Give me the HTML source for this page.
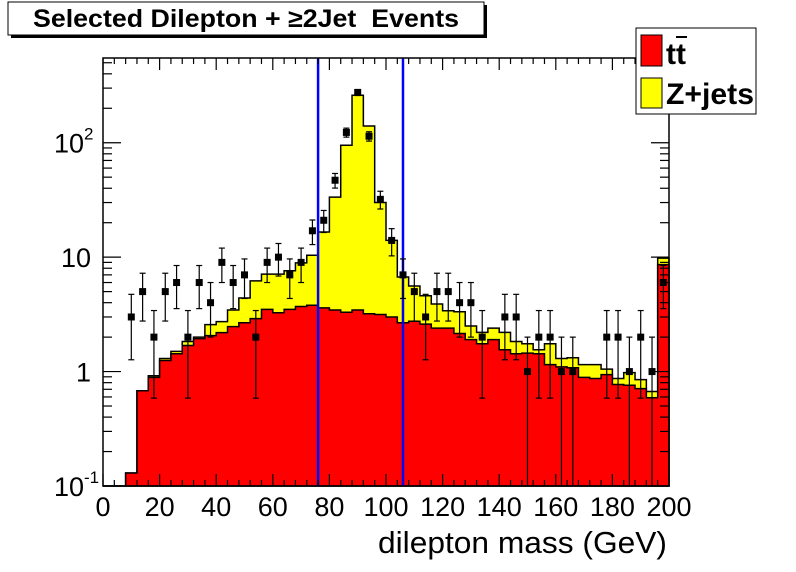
<!DOCTYPE html>
<html><head><meta charset="utf-8"><style>
body{margin:0;background:#fff;}
svg{display:block;font-family:"Liberation Sans",sans-serif;}
</style></head><body>
<svg id="c" width="796" height="572" viewBox="0 0 796 572"></svg>
<script>
const binEdgesStart = 0, binWidth = 4;
const ttbar = [0,0,0.13,0.68,0.89,1.25,1.43,1.69,1.94,2.06,2.19,2.47,2.67,2.9,3.5,3.27,3.5,3.7,3.8,3.6,3.45,3.3,3.45,3.2,3.15,3.0,2.67,2.75,2.6,2.4,2.4,2.15,1.9,1.75,1.9,1.55,1.43,1.45,1.43,1.15,1.1,1.08,0.89,0.87,0.94,0.77,0.76,0.71,0.59,8.6];
const total = [0,0,0.13,0.68,0.92,1.3,1.5,1.83,2.0,2.57,2.73,3.45,4.4,6.2,7.1,7.1,7.6,8.9,10.4,16.6,33.5,95,260,140,30,14,6.7,5.6,4.6,3.9,3.4,3.33,2.5,2.2,2.4,2.2,1.83,1.75,1.55,1.75,1.3,1.32,1.15,1.15,1.05,0.87,0.98,0.85,0.67,9.8];
const dataCounts = [0,0,3,5,2,5,6,2,6,4,9,6,7,2,9,10,7,9,17,21,47,123,275,114,32,14,7,5,3,5,5,4,4,2,0,3,3,1,2,2,1,1,0,0,2,2,1,2,1,6];
const xTicks = [0,20,40,60,80,100,120,140,160,180,200];
const cutLines = [76,106];

const NS="http://www.w3.org/2000/svg";
const svg=document.getElementById('c');
const L=103,R=669,T=58,B=486;
const yMin=-1, yMax=Math.log10(550);
const X=v=>L+(v-0)/(200-0)*(R-L);
const Y=v=>{const lv=Math.log10(Math.max(v,1e-3));const p=B-(lv-yMin)/(yMax-yMin)*(B-T);return Math.min(B,Math.max(T,p));};
function el(t,a,p){const e=document.createElementNS(NS,t);for(const k in a)e.setAttribute(k,a[k]);(p||svg).appendChild(e);return e;}

function histPath(vals){
  let d=`M${X(0)},${B}`;
  vals.forEach((v,i)=>{const x0=X(binEdgesStart+i*binWidth),x1=X(binEdgesStart+(i+1)*binWidth);const y=v>0?Y(v):B;d+=`L${x0},${y}L${x1},${y}`;});
  d+=`L${X(200)},${B}Z`;return d;
}
const g=el('g',{});


const pz=el('path',{d:histPath(total),fill:'#ffff00',stroke:'#000','stroke-width':1.5},g);


const pt=el('path',{d:histPath(ttbar),fill:'#ff0000',stroke:'#000','stroke-width':1.5},g);



cutLines.forEach(c=>{
  const l=el('line',{x1:X(c),x2:X(c),y1:T,y2:B,stroke:'#0000ff','stroke-width':2.5});
  
  
});

const dg=el('g',{});


dataCounts.forEach((n,i)=>{
  if(n<=0)return;
  const xc=X(binEdgesStart+(i+0.5)*binWidth);
  const e=Math.sqrt(n);
  const yl=n-e>0?Y(n-e):B, yh=Y(n+e), yc=Y(n);
  el('line',{x1:xc,x2:xc,y1:yl,y2:yh,stroke:'#000','stroke-width':1.2},dg);
  el('line',{x1:xc-3,x2:xc+3,y1:yh,y2:yh,stroke:'#000','stroke-width':1.2},dg);
  if(n-e>0)el('line',{x1:xc-3,x2:xc+3,y1:yl,y2:yl,stroke:'#000','stroke-width':1.2},dg);
  const m=el('rect',{x:xc-3.5,y:yc-3.5,width:7,height:7,fill:'#000'},dg);
  
  
});

const fr=el('rect',{x:L,y:T,width:R-L,height:B-T,fill:'none',stroke:'#000','stroke-width':1.5});



for(let v=0;v<=200;v+=4){
  const major=v%20===0;const len=major?12:6;
  el('line',{x1:X(v),x2:X(v),y1:B,y2:B-len,stroke:'#000','stroke-width':1.2});
  el('line',{x1:X(v),x2:X(v),y1:T,y2:T+len,stroke:'#000','stroke-width':1.2});
}
xTicks.forEach(v=>{
  const t=el('text',{x:X(v),y:B+30,'font-size':27,'text-anchor':'middle',fill:'#000'});
  t.textContent=v;
  
  
});
for(let d=-1;d<=2;d++){
  for(let k=1;k<=9;k++){
    const v=k*Math.pow(10,d);const lv=Math.log10(v);if(lv>yMax)break;
    const y=Y(v);const len=k===1?18:9;
    el('line',{x1:L,x2:L+len,y1:y,y2:y,stroke:'#000','stroke-width':1.2});
    el('line',{x1:R,x2:R-len,y1:y,y2:y,stroke:'#000','stroke-width':1.2});
  }
}
const yLabels=[[0.1,'10','-1'],[1,'1',''],[10,'10',''],[100,'10','2']];
yLabels.forEach(([v,b,s])=>{
  const t=el('text',{x:s?L-19:L-12,y:Y(v)+10,'font-size':27,'text-anchor':'end',fill:'#000'});
  t.textContent=b;
  
  
  if(s){const u=el('text',{x:L-19,y:Y(v)-3,'font-size':17,'text-anchor':'start',fill:'#000'});u.textContent=s;
    
    }
});
</script>
<div style="position:absolute;left:0;top:0;width:796px;height:572px;pointer-events:none;">
<svg width="796" height="572" style="position:absolute;left:0;top:0;font-family:'Liberation Sans',sans-serif;">
<rect x="11" y="5" width="476" height="33" fill="#000"/>
<rect x="8" y="2" width="476" height="33" fill="#fff" stroke="#000" stroke-width="1"/>
<text x="246" y="27" font-size="25" font-weight="bold" text-anchor="middle" textLength="426" lengthAdjust="spacingAndGlyphs">Selected Dilepton + ≥2Jet&#160;&#160;Events</text>
<rect x="636" y="28" width="120" height="86" fill="#fff" stroke="#000" stroke-width="1"/>
<g>
<rect x="641" y="35" width="21" height="31" fill="#ff0000" stroke="#000"/>
<text x="666" y="64" font-size="30" font-weight="bold">tt</text>
<line x1="676" x2="687" y1="37" y2="37" stroke="#000" stroke-width="2"/>
</g>
<g>
<rect x="641" y="78" width="21" height="30" fill="#ffff00" stroke="#000"/>
<text x="666" y="104" font-size="30" font-weight="bold" textLength="88" lengthAdjust="spacingAndGlyphs">Z+jets</text>
</g>
<text x="667" y="553" font-size="31" text-anchor="end" textLength="289" lengthAdjust="spacingAndGlyphs">dilepton mass (GeV)</text>
</svg>
</div>
</body></html>
